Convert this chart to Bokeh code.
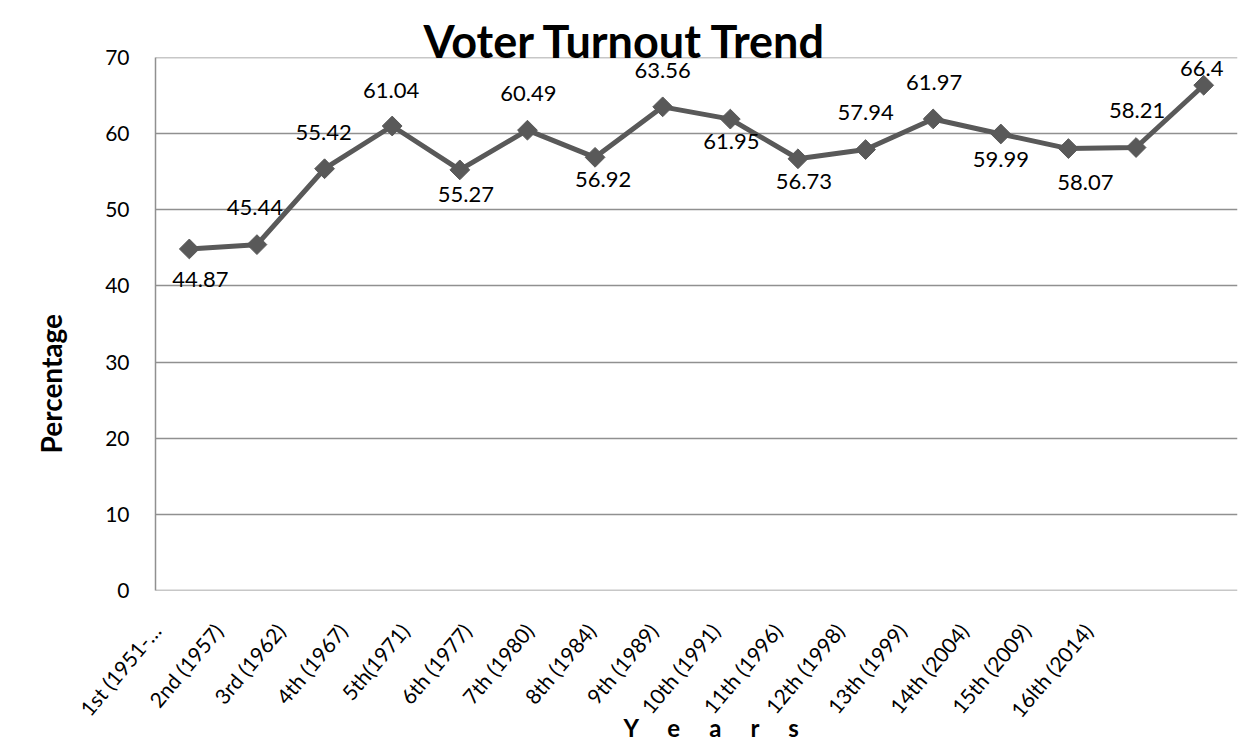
import math
from bokeh.plotting import figure
from bokeh.models import (ColumnDataSource, Range1d, LinearAxis, Title, FixedTicker)
from bokeh.core.properties import value
from bokeh.embed import file_html
from bokeh.resources import INLINE

# ---- data ----
categories = ["1st (1951-…", "2nd (1957)", "3rd (1962)", "4th (1967)", "5th(1971)",
              "6th (1977)", "7th (1980)", "8th (1984)", "9th (1989)", "10th (1991)",
              "11th (1996)", "12th (1998)", "13th (1999)", "14th (2004)", "15th (2009)",
              "16lth (2014)"]
turnout = [44.87, 45.44, 55.42, 61.04, 55.27, 60.49, 56.92, 63.56, 61.95, 56.73,
           57.94, 61.97, 59.99, 58.07, 58.21, 66.4]
y_ticks = [0, 10, 20, 30, 40, 50, 60, 70]
title_text = "Voter Turnout Trend"
y_title = "Percentage"
NB = "\u00a0" * 5
x_title = NB.join(["Y", "e", "a", "r", "s"])

# ---- label placement (style, pixels) ----
label_dx = [11, -2, -1, -1, 6, 1, 8, 0, 1, 6, 0, 1, 0, 17, 1, -2]
label_dy = [31, -37, -36, -36, 25, -37, 22, -36, 22, 23, -37, -36, 26, 34, -37, -17]

FONT = "Lato"
LINE = "#595959"
GRID = "#909090"

idx = list(range(len(categories)))
src = ColumnDataSource(dict(
    x=idx, y=turnout,
    txt=[f"{v:g}" for v in turnout],
    dx=label_dx, dy=label_dy,
))

p = figure(
    x_range=Range1d(-0.5, len(categories) - 0.5),
    y_range=Range1d(-0.05, 70.05),
    width=1246, height=744,
    min_border_left=152, min_border_right=9, min_border_top=57, min_border_bottom=154,
    output_backend="svg", toolbar_location=None,
    background_fill_color="white", border_fill_color="white",
    outline_line_color=None,
)

# tick-label axis: category names on a slightly tighter pitch than the points
p.extra_x_ranges = {"lab": Range1d(-0.008, 17.408)}
p.xaxis.visible = False
xax = LinearAxis(x_range_name="lab")
xax.ticker = FixedTicker(ticks=idx)
xax.major_label_overrides = {i: c for i, c in enumerate(categories)}
xax.major_label_orientation = math.radians(50)
xax.major_tick_line_color = None
xax.minor_tick_line_color = None
xax.axis_line_color = None
xax.major_label_text_font = FONT
xax.major_label_text_font_size = "21px"
xax.major_label_text_color = "black"
xax.major_label_standoff = 30
p.add_layout(xax, "below")

yax = p.yaxis[0]
yax.ticker = y_ticks
yax.major_tick_line_color = None
yax.minor_tick_line_color = None
yax.axis_line_color = GRID
yax.axis_line_width = 1.5
yax.major_label_text_font = FONT
yax.major_label_text_font_size = "21px"
yax.major_label_text_color = "black"
yax.major_label_standoff = 20

p.xgrid.grid_line_color = None
p.ygrid.ticker = y_ticks
p.ygrid.grid_line_color = GRID
p.ygrid.grid_line_width = 1.5

p.line("x", "y", source=src, line_color=LINE, line_width=5)
p.scatter("x", "y", source=src, marker="square", angle=math.pi / 4, size=14,
          fill_color=LINE, line_color=LINE)

p.text("x", "y", text="txt", source=src, x_offset="dx", y_offset="dy",
       text_font=value(FONT), text_font_size="22px", text_color="black",
       text_align="center", text_baseline="middle")

p.add_layout(Title(text=title_text, align="left", offset=268, standoff=-20,
                   text_font=FONT, text_font_size="45px", text_font_style="bold",
                   text_color="black"), "above")
p.add_layout(Title(text=y_title, align="left", offset=137, standoff=66,
                   vertical_align="top",
                   text_font=FONT, text_font_size="28px", text_font_style="bold",
                   text_color="black"), "left")
p.add_layout(Title(text=x_title, align="left", offset=468, standoff=-40,
                   vertical_align="top",
                   text_font=FONT, text_font_size="24px", text_font_style="bold",
                   text_color="black"), "below")

open("out.html", "w").write(file_html(p, INLINE))
